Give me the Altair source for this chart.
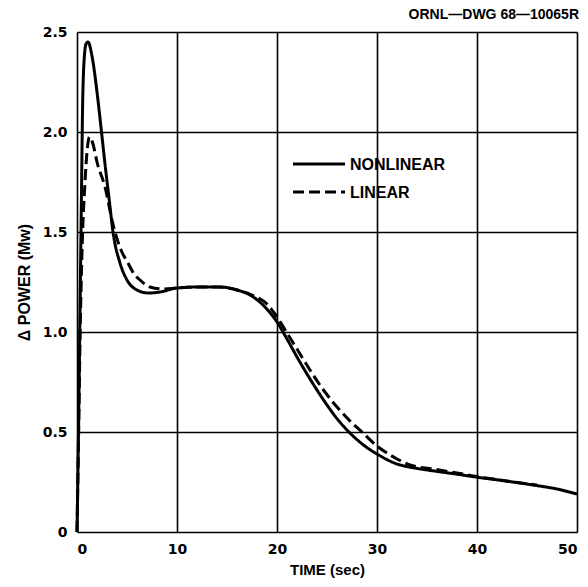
import altair as alt
import pandas as pd

# Nonlinear (solid) series
nl_t = [0, 0.15, 0.3, 0.45, 0.55, 0.7, 0.9, 1.1, 1.5, 2.0, 2.45, 2.8, 3.2, 3.6, 4.3, 5.0, 6.0, 7.1, 8.3, 10,
        12.3, 14.3, 16, 17.3, 18.6, 20, 21, 22, 23, 24, 25, 26, 27, 28, 29, 30, 31, 32, 33, 34,
        36, 38, 40, 42, 45.6, 48, 50]
nl_p = [0, 0.5, 1.1, 1.7, 2.1, 2.35, 2.44, 2.45, 2.38, 2.2, 2.0, 1.84, 1.67, 1.5, 1.345, 1.26, 1.21, 1.195, 1.2, 1.22,
        1.225, 1.225, 1.21, 1.185, 1.135, 1.05, 0.965, 0.875, 0.79, 0.71, 0.635, 0.567, 0.51, 0.462, 0.422, 0.39,
        0.362, 0.34, 0.327, 0.318,
        0.303, 0.289, 0.274, 0.261, 0.235, 0.215, 0.19]

# Linear (dashed) series
li_t = [0, 0.15, 0.3, 0.5, 0.8, 1.0, 1.25, 1.6, 2.0, 2.8, 3.5, 3.8, 4.4, 5.1, 5.7, 6.3, 7.3, 8.6, 10, 12, 14,
        16, 17.5, 19, 20, 21, 22, 23.3, 24.5, 26, 27.3, 28.6, 30, 31, 32, 33.3, 35.6, 38, 40, 42, 44, 46]
li_p = [0, 0.45, 0.95, 1.4, 1.75, 1.9, 1.975, 1.94, 1.85, 1.725, 1.56, 1.5, 1.41, 1.345, 1.29, 1.26, 1.225, 1.215,
        1.22, 1.225, 1.225, 1.21, 1.185, 1.14, 1.075, 0.995, 0.915, 0.81, 0.72, 0.625, 0.555, 0.495, 0.43, 0.395,
        0.365, 0.335, 0.315, 0.295, 0.277, 0.262, 0.248, 0.235]

series_names = ["NONLINEAR", "LINEAR"]

df = pd.concat([
    pd.DataFrame({"t": nl_t, "p": nl_p, "series": series_names[0], "order": range(len(nl_t))}),
    pd.DataFrame({"t": li_t, "p": li_p, "series": series_names[1], "order": range(len(li_t))}),
])

FONT = "Liberation Sans"
LFONT = "DejaVu Sans"

x_scale = alt.Scale(domain=[0, 50], nice=False)
y_scale = alt.Scale(domain=[0, 2.5], nice=False)

lines = alt.Chart(df).mark_line(color="black", strokeWidth=3, interpolate="monotone").encode(
    x=alt.X("t:Q", scale=x_scale,
            axis=alt.Axis(values=[0, 10, 20, 30, 40, 50], title="TIME (sec)", grid=True,
                          gridColor="black", gridWidth=1.6, gridOpacity=1, domain=False, ticks=False,
                          labelPadding=10, labelFont=LFONT, labelFontSize=14, labelFontWeight="bold",
                          labelColor="black", titleFont=FONT, titleFontSize=15, titleFontWeight="bold",
                          titleColor="black", titlePadding=6)),
    y=alt.Y("p:Q", scale=y_scale,
            axis=alt.Axis(values=[0, 0.5, 1.0, 1.5, 2.0, 2.5], title="Δ POWER (Mw)", grid=True,
                          labelExpr="datum.value == 0 ? '0' : format(datum.value, '.1f')",
                          gridColor="black", gridWidth=1.6, gridOpacity=1, domain=False, ticks=False,
                          labelPadding=10, labelFont=LFONT, labelFontSize=14, labelFontWeight="bold",
                          labelColor="black", titleFont=FONT, titleFontSize=16, titleFontWeight="bold",
                          titleColor="black", titlePadding=10)),
    strokeDash=alt.StrokeDash("series:N", scale=alt.Scale(domain=series_names, range=[[1, 0], [11, 5]]),
                              legend=None),
    detail="series:N",
    order="order:Q",
)

# Legend drawn inside the plot area
leg_solid = alt.Chart().mark_rule(color="black", strokeWidth=3).encode(
    x=alt.value(216), x2=alt.value(268), y=alt.value(132))
leg_dash = alt.Chart().mark_rule(color="black", strokeWidth=3, strokeDash=[11, 5]).encode(
    x=alt.value(216), x2=alt.value(268), y=alt.value(160))
leg_t1 = alt.Chart().mark_text(text=series_names[0], font=FONT, fontSize=16, fontWeight="bold",
                                align="left", baseline="middle", color="black").encode(
    x=alt.value(273), y=alt.value(133))
leg_t2 = alt.Chart().mark_text(text=series_names[1], font=FONT, fontSize=16, fontWeight="bold",
                                align="left", baseline="middle", color="black").encode(
    x=alt.value(273), y=alt.value(161))

dwg = alt.Chart().mark_text(text="ORNL—DWG  68—10065R", font=FONT, fontSize=14, fontWeight="bold",
                            align="right", baseline="middle", color="black").encode(
    x=alt.value(502), y=alt.value(-17))

chart = alt.layer(lines, leg_solid, leg_dash, leg_t1, leg_t2, dwg).properties(
    width=500, height=500,
    autosize=alt.AutoSizeParams(type="none"),
    padding={"left": 77, "top": 32, "right": 11, "bottom": 55},
).configure_view(stroke="black", strokeWidth=2.5).configure(background="white")

chart.save("out.html", embed_options={"renderer": "svg", "actions": False})
